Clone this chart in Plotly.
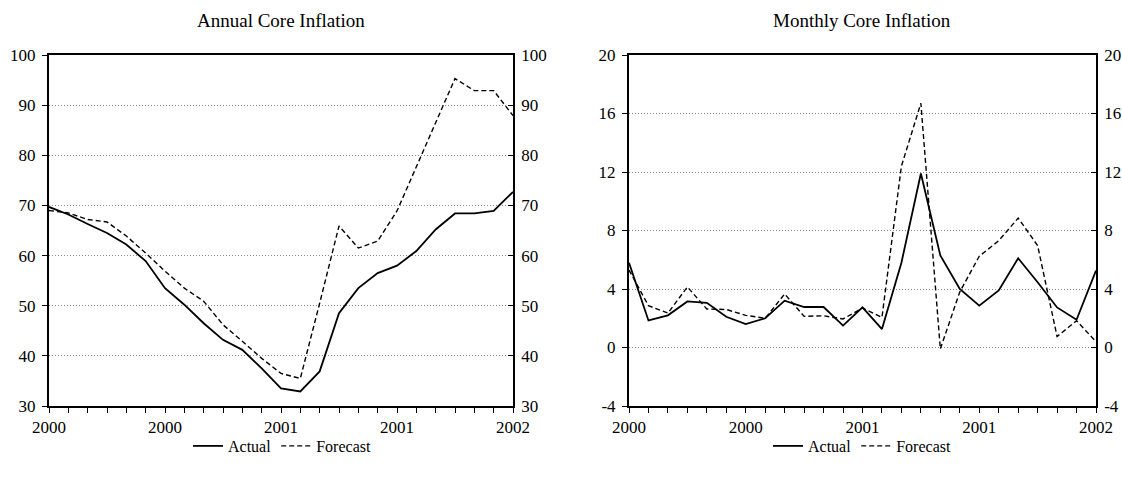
import plotly.graph_objects as go

# ---- data ----
periods = list(range(25))
tick_labels = ["2000", "", "", "", "", "", "2000", "", "", "", "", "", "2001",
               "", "", "", "", "", "2001", "", "", "", "", "", "2002"]

annual_actual = [69.7, 68.2, 66.3, 64.5, 62.2, 58.9, 53.5, 50.2, 46.5, 43.2, 41.2, 37.5, 33.5,
                 32.9, 36.9, 48.5, 53.5, 56.5, 58.0, 60.9, 65.2, 68.4, 68.4, 68.9, 72.7]
annual_forecast = [69.0, 68.5, 67.2, 66.7, 63.9, 60.5, 56.9, 53.5, 50.9, 46.2, 42.9, 39.5, 36.5,
                   35.5, 50.5, 65.9, 61.5, 62.9, 68.9, 77.8, 86.6, 95.3, 92.9, 92.9, 87.9]

monthly_actual = [5.8, 1.85, 2.2, 3.15, 3.05, 2.1, 1.6, 2.0, 3.2, 2.77, 2.77, 1.5, 2.75,
                  1.26, 5.8, 11.9, 6.3, 4.0, 2.86, 3.9, 6.1, 4.46, 2.74, 1.9, 5.26]
monthly_forecast = [5.3, 2.86, 2.35, 4.14, 2.63, 2.6, 2.2, 2.0, 3.66, 2.13, 2.17, 1.95, 2.7,
                    2.06, 12.4, 16.7, -0.1, 3.8, 6.24, 7.3, 8.85, 6.97, 0.75, 1.83, 0.4]

annual_ticks = [30, 40, 50, 60, 70, 80, 90, 100]
annual_tick_text = ["30", "40", "50", "60", "70", "80", "90", "100"]
monthly_ticks = [-4, 0, 4, 8, 12, 16, 20]
monthly_tick_text = ["-4", "0", "4", "8", "12", "16", "20"]

FONT = "Liberation Serif"
W, H = 1122, 481

fig = go.Figure()

def add_lines(xa, ya, actual, forecast, legend):
    fig.add_trace(go.Scatter(x=periods, y=actual, mode="lines", name="Actual",
                             line=dict(color="black", width=1.8), xaxis=xa, yaxis=ya,
                             legend=legend))
    fig.add_trace(go.Scatter(x=periods, y=forecast, mode="lines", name="Forecast",
                             line=dict(color="black", width=1.4, dash="5px,3px"),
                             xaxis=xa, yaxis=ya, legend=legend))

add_lines("x", "y", annual_actual, annual_forecast, "legend")
add_lines("x2", "y2", monthly_actual, monthly_forecast, "legend2")
# invisible traces to anchor right-hand axes
fig.add_trace(go.Scatter(x=periods, y=annual_actual, mode="lines", opacity=0,
                         showlegend=False, hoverinfo="skip", xaxis="x", yaxis="y3"))
fig.add_trace(go.Scatter(x=periods, y=monthly_actual, mode="lines", opacity=0,
                         showlegend=False, hoverinfo="skip", xaxis="x2", yaxis="y4"))

top = 1 - 55 / H
bot = 1 - 406 / H
dom1 = [49 / W, 513 / W]
dom2 = [629 / W, 1096 / W]

tickfont = dict(family=FONT, size=17, color="black")

def xaxis(domain, anchor):
    return dict(domain=domain, anchor=anchor, range=[0, 24], tickmode="array",
                tickvals=periods, ticktext=tick_labels, ticks="outside", ticklen=5,
                tickwidth=1, tickcolor="black", showline=True, linewidth=2,
                linecolor="black", mirror=True, showgrid=False, zeroline=False,
                tickfont=tickfont, tickangle=0, automargin=False)

def yleft(rng, ticks, text, anchor):
    return dict(domain=[bot, top], anchor=anchor, range=rng, tickmode="array",
                tickvals=ticks, ticktext=text, ticks="outside", ticklen=5,
                tickcolor="black", showline=True, linewidth=2, linecolor="black",
                showgrid=True, gridcolor="#8a8a8a", griddash="1px,2px", gridwidth=1,
                zeroline=False, tickfont=tickfont, ticklabelstandoff=3, automargin=False)

def yright(rng, ticks, text, overlay, anchor):
    return dict(overlaying=overlay, anchor=anchor, side="right", range=rng,
                tickmode="array", tickvals=ticks, ticktext=text, ticks="inside",
                ticklen=5, tickcolor="black", showline=True, linewidth=1.5,
                linecolor="black", showgrid=False, zeroline=False, tickfont=tickfont,
                ticklabelstandoff=3, automargin=False)

fig.update_layout(
    width=W, height=H,
    margin=dict(l=0, r=0, t=0, b=0, autoexpand=False),
    paper_bgcolor="white", plot_bgcolor="white",
    font=dict(family=FONT, size=16, color="black"),
    xaxis=xaxis(dom1, "y"),
    xaxis2=xaxis(dom2, "y2"),
    yaxis=yleft([30, 100], annual_ticks, annual_tick_text, "x"),
    yaxis2=yleft([-4, 20], monthly_ticks, monthly_tick_text, "x2"),
    yaxis3=yright([30, 100], annual_ticks, annual_tick_text, "y", "x"),
    yaxis4=yright([-4, 20], monthly_ticks, monthly_tick_text, "y2", "x2"),
    legend=dict(orientation="h", x=282 / W, y=1 - 446 / H, xanchor="center",
                yanchor="middle", font=dict(family=FONT, size=16), bgcolor="rgba(0,0,0,0)",
                itemwidth=30),
    legend2=dict(orientation="h", x=862 / W, y=1 - 446 / H, xanchor="center",
                 yanchor="middle", font=dict(family=FONT, size=16), bgcolor="rgba(0,0,0,0)",
                 itemwidth=30),
    annotations=[
        dict(text="Annual Core Inflation", x=281 / W, y=1 - 21 / H, xref="paper",
             yref="paper", showarrow=False, xanchor="center", yanchor="middle",
             font=dict(family=FONT, size=19, color="black")),
        dict(text="Monthly Core Inflation", x=862 / W, y=1 - 21 / H, xref="paper",
             yref="paper", showarrow=False, xanchor="center", yanchor="middle",
             font=dict(family=FONT, size=19, color="black")),
    ],
    showlegend=True,
)

fig.write_html("out.html")
